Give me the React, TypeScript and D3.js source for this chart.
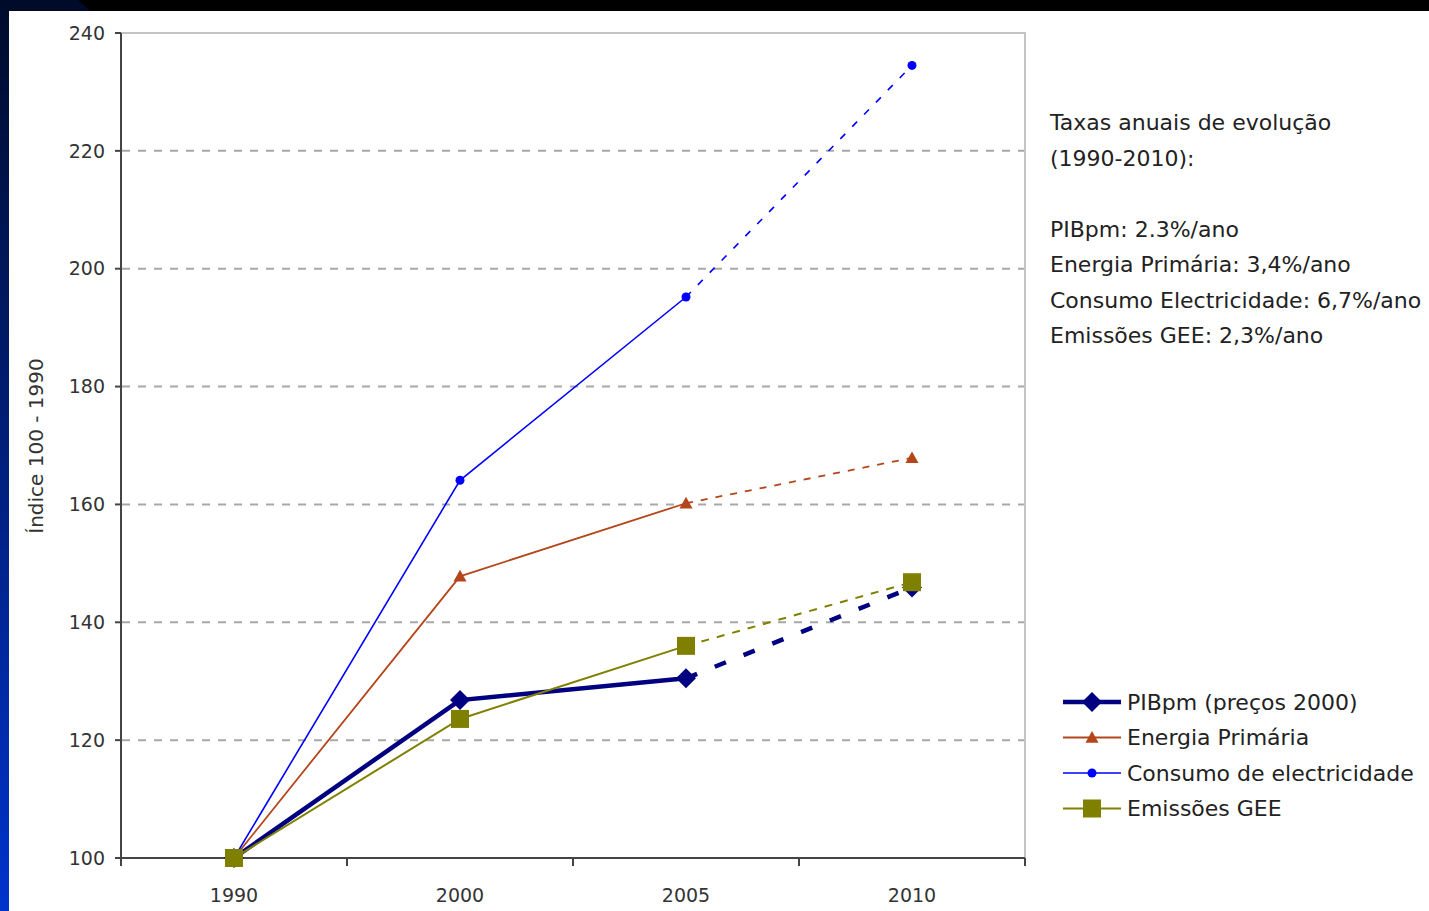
import { useEffect } from "react";
import * as d3 from "d3";

const years = ["1990", "2000", "2005", "2010"];
const pib = [100, 126.8, 130.5, 145.9];
const energia = [100, 147.8, 160.2, 167.9];
const consumo = [100, 164.1, 195.2, 234.5];
const gee = [100, 123.6, 136.0, 146.8];
const yTicks = [100, 120, 140, 160, 180, 200, 220, 240];
const gridTicks = [120, 140, 160, 180, 200, 220];

const noteLines = [
	"Taxas anuais de evolução",
	"(1990-2010):",
	"",
	"PIBpm: 2.3%/ano",
	"Energia Primária: 3,4%/ano",
	"Consumo Electricidade: 6,7%/ano",
	"Emissões GEE: 2,3%/ano",
];

const FONT = "'DejaVu Sans', sans-serif";

type Series = {
	name: string;
	values: number[];
	color: string;
	width: number;
	dash: string;
	marker: "diamond" | "triangle" | "circle" | "square";
	size: number;
};

// drawing order: later series sit on top
const series: Series[] = [
	{ name: "PIBpm (preços 2000)", values: pib, color: "#000080", width: 4.5, dash: "12,19", marker: "diamond", size: 20 },
	{ name: "Energia Primária", values: energia, color: "#b4461b", width: 1.8, dash: "7,8", marker: "triangle", size: 13 },
	{ name: "Consumo de electricidade", values: consumo, color: "#0000ff", width: 1.6, dash: "7,10", marker: "circle", size: 10 },
	{ name: "Emissões GEE", values: gee, color: "#808000", width: 2, dash: "8,8", marker: "square", size: 18 },
];

function Marker({ kind, x, y, size, color }: { kind: Series["marker"]; x: number; y: number; size: number; color: string }) {
	const h = size / 2;
	if (kind === "square")
		return <rect x={x - h} y={y - h} width={size} height={size} fill={color} />;
	if (kind === "circle") return <circle cx={x} cy={y} r={h - 0.5} fill={color} />;
	if (kind === "triangle")
		return <path d={`M${x},${y - h}L${x + h},${y + h * 0.8}L${x - h},${y + h * 0.8}Z`} fill={color} />;
	return <path d={`M${x},${y - h}L${x + h},${y}L${x},${y + h}L${x - h},${y}Z`} fill={color} />;
}

export default function App() {
	useEffect(() => {
		document.body.style.margin = "0";
	}, []);

	const W = 1429;
	const H = 911;
	const x = d3.scaleBand<string>().domain(years).range([121, 1025]).padding(0);
	const y = d3.scaleLinear().domain([100, 240]).range([858, 33]);
	const cx = (i: number) => (x(years[i]) ?? 0) + x.bandwidth() / 2;
	const solid = d3
		.line<number>()
		.x((_, i) => cx(i))
		.y((d) => y(d));
	const dashed = d3
		.line<number>()
		.x((_, i) => cx(i + 2))
		.y((d) => y(d));

	const boundaries = [...years.map((yr) => x(yr) ?? 0), x.range()[1]];

	return (
		<svg width={W} height={H} style={{ display: "block" }}>
			<defs>
				<linearGradient id="side" x1="0" y1="0" x2="0" y2="1">
					<stop offset="0%" stopColor="#000b2a" />
					<stop offset="100%" stopColor="#0033cc" />
				</linearGradient>
			</defs>
			<rect x={0} y={0} width={W} height={H} fill="#ffffff" />
			<rect x={0} y={0} width={W} height={11} fill="#000000" />
			<path d="M0,0L78,0L90,11L0,11Z" fill="#000b2a" />
			<rect x={0} y={0} width={9} height={H} fill="url(#side)" />

			{/* grid */}
			{gridTicks.map((t) => (
				<line key={t} x1={122} x2={1025} y1={y(t)} y2={y(t)} stroke="#a8a8a8" strokeWidth={2} strokeDasharray="8,8" />
			))}
			{/* plot border top/right */}
			<path d={`M121,${y(240)}H1025V${y(100)}`} fill="none" stroke="#c4c4c4" strokeWidth={2} />

			{/* axes */}
			<line x1={121} x2={121} y1={y(240)} y2={y(100)} stroke="#444" strokeWidth={2} />
			<line x1={121} x2={1025} y1={y(100)} y2={y(100)} stroke="#444" strokeWidth={2} />
			{yTicks.map((t) => (
				<g key={t}>
					<line x1={115} x2={121} y1={y(t)} y2={y(t)} stroke="#444" strokeWidth={2} />
					<text x={105} y={y(t)} dy="0.35em" textAnchor="end" fontFamily={FONT} fontSize={19} fill="#333">
						{t}
					</text>
				</g>
			))}
			{boundaries.map((b, i) => (
				<line key={i} x1={b} x2={b} y1={y(100)} y2={y(100) + 8} stroke="#444" strokeWidth={2} />
			))}
			{years.map((yr, i) => (
				<text key={yr} x={cx(i)} y={902} textAnchor="middle" fontFamily={FONT} fontSize={19} fill="#333">
					{yr}
				</text>
			))}
			<text
				transform={`translate(43,446) rotate(-90)`}
				textAnchor="middle"
				fontFamily={FONT}
				fontSize={20}
				fill="#333"
			>
				Índice 100 - 1990
			</text>

			{/* series */}
			{series.map((s) => (
				<g key={s.name}>
					<path d={solid(s.values.slice(0, 3)) ?? ""} fill="none" stroke={s.color} strokeWidth={s.width} />
					<path
						d={dashed(s.values.slice(2)) ?? ""}
						fill="none"
						stroke={s.color}
						strokeWidth={s.width}
						strokeDasharray={s.dash}
					/>
					{s.values.map((v, i) => (
						<Marker key={i} kind={s.marker} x={cx(i)} y={y(v)} size={s.size} color={s.color} />
					))}
				</g>
			))}

			{/* note */}
			{noteLines.map((t, i) => (
				<text key={i} x={1050} y={130 + i * 35.5} fontFamily={FONT} fontSize={22} fill="#222">
					{t}
				</text>
			))}

			{/* legend */}
			{series.map((s, i) => {
				const ly = 702 + i * 35.5;
				return (
					<g key={s.name}>
						<line x1={1063} x2={1121} y1={ly} y2={ly} stroke={s.color} strokeWidth={s.width} />
						<Marker kind={s.marker} x={1092} y={ly} size={s.size} color={s.color} />
						<text x={1127} y={ly} dy="0.36em" fontFamily={FONT} fontSize={22} fill="#222">
							{s.name}
						</text>
					</g>
				);
			})}
		</svg>
	);
}
